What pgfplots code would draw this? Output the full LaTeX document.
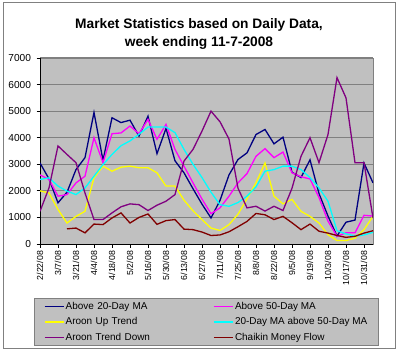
\documentclass[border=0pt]{standalone}
\usepackage{fontspec}
\setmainfont{Liberation Sans}
\usepackage{pgfplots}
\pgfplotsset{compat=1.18}
\usepackage{pgfplotstable}
\definecolor{plotbg}{HTML}{C0C0C0}
\definecolor{gridc}{HTML}{808080}
\definecolor{cNavy}{HTML}{000080}
\definecolor{cMag}{HTML}{FF00FF}
\definecolor{cYel}{HTML}{FFFF00}
\definecolor{cCyan}{HTML}{00FFFF}
\definecolor{cPurp}{HTML}{800080}
\definecolor{cDred}{HTML}{800000}

\pgfplotstableread{
i navy mag yel cyan purp
0 3050 2600 2000 2430 1230
1 2450 2430 1920 2490 2110
2 1550 1800 1300 2180 3690
3 1950 1860 790 1990 3370
4 2800 2300 1040 1860 3060
5 3250 2550 1230 2110 1920
6 4950 4000 2490 2550 920
7 3150 3060 2930 2990 920
8 4750 4150 2740 3370 1170
9 4570 4180 2890 3700 1400
10 4660 4440 2930 3880 1510
11 4060 4150 2870 4130 1480
12 4810 4690 2870 4400 1260
13 3400 3940 2680 4400 1460
14 4350 4500 2180 4400 1610
15 3130 3560 2180 4190 1860
16 2680 2930 1650 3560 3120
17 2080 2300 1250 3000 3560
18 1500 1690 920 2500 4250
19 980 1140 600 1950 5000
20 1640 1360 510 1480 4600
21 2600 1800 730 1420 3950
22 3180 2300 1120 1560 2100
23 3430 2650 1700 1800 1360
24 4120 3300 2300 2150 1420
25 4310 3590 3050 2740 1240
26 3770 3250 1800 2800 1420
27 4020 3460 1510 2930 1260
28 2700 2680 1680 2930 2100
29 2500 2530 1230 2800 3300
30 3170 2450 1040 2500 4000
31 1900 1750 790 2110 3060
32 1050 860 350 1610 4120
33 300 290 130 500 6260
34 820 420 130 380 5500
35 900 420 220 300 3060
36 3050 1080 540 340 3060
37 2300 1050 1040 440 980
}\mktable

\pgfplotstableread{
i cmf
3 570
4 600
5 420
6 750
7 730
8 980
9 1170
10 790
11 1000
12 1130
13 740
14 880
15 920
16 560
17 540
18 450
19 320
20 340
21 460
22 650
23 850
24 1150
25 1100
26 920
27 1040
28 800
29 540
30 750
31 480
32 410
33 320
34 250
35 290
36 410
37 500
}\cmftable

\begin{document}
\begin{tikzpicture}
\useasboundingbox (0,0) rectangle (400bp,352bp);
\draw[gridc, line width=0.8bp] (3bp,4bp) rectangle (395bp,350bp);
\node[font=\bfseries\fontsize{13.8}{16}\selectfont, anchor=base, inner sep=0pt] at (199bp,323.7bp) {Market Statistics based on Daily Data,};
\node[font=\bfseries\fontsize{13.8}{16}\selectfont, anchor=base, inner sep=0pt] at (199bp,305.3bp) {week ending 11-7-2008};
\begin{axis}[
  at={(40bp,108bp)}, anchor=south west,
  scale only axis, width=333bp, height=186bp,
  xmin=0, xmax=37, ymin=0, ymax=7000,
  xtick={0,2,...,36},
  xticklabels={2/22/08,3/7/08,3/21/08,4/4/08,4/18/08,5/2/08,5/16/08,5/30/08,6/13/08,6/27/08,7/11/08,7/25/08,8/8/08,8/22/08,9/5/08,9/19/08,10/3/08,10/17/08,10/31/08},
  ytick={0,1000,...,7000},
  scaled y ticks=false,
  /pgf/number format/1000 sep={},
  /pgf/number format/assume math mode=true,
  axis x line*=bottom, axis y line*=left,
  axis line style={black, line width=0.9bp},
  axis background/.style={fill=plotbg, draw=gridc, line width=0.8bp},
  ymajorgrids, grid style={gridc, line width=1bp},
  tick align=outside, major tick length=3.5bp,
  tick style={black, line width=0.8bp},
  xticklabel style={rotate=90, anchor=east, font=\fontsize{8.8}{10}\selectfont},
  yticklabel style={font=\fontsize{10.2}{12}\selectfont, xshift=-2bp},
  legend columns=2,
  legend cell align=left,
  legend image code/.code={\draw[#1] (0bp,0bp) -- (19bp,0bp);},
  legend style={
    at={(-0.018,-0.2903)}, anchor=north west,
    fill=plotbg, draw=gridc, line width=0.8bp,
    inner xsep=9.5bp, inner ysep=0.5bp,
    font=\fontsize{10}{12}\selectfont,
    nodes={inner xsep=1.5bp, inner ysep=2.5bp, text height=8bp, text depth=2.5bp},
    /tikz/column 2/.style={nodes={text width=146bp}},
  },
  every axis plot/.append style={line width=1.3bp},
]
\addplot[cNavy] table[x=i, y=navy] {\mktable};
\addlegendentry{Above 20-Day MA}
\addplot[cMag] table[x=i, y=mag] {\mktable};
\addlegendentry{Above 50-Day MA}
\addplot[cYel] table[x=i, y=yel] {\mktable};
\addlegendentry{Aroon Up Trend}
\addplot[cCyan] table[x=i, y=cyan] {\mktable};
\addlegendentry{20-Day MA above 50-Day MA}
\addplot[cPurp] table[x=i, y=purp] {\mktable};
\addlegendentry{Aroon Trend Down}
\addplot[cDred] table[x=i, y=cmf] {\cmftable};
\addlegendentry{Chaikin Money Flow}
\end{axis}
\end{tikzpicture}
\end{document}
